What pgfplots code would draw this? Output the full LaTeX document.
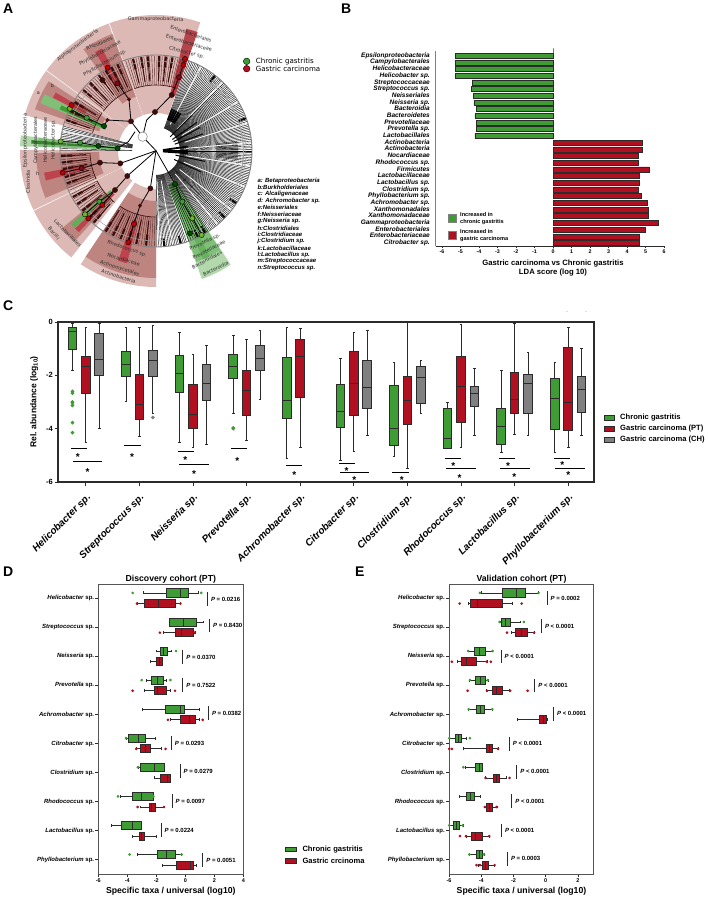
\documentclass[border=0pt]{standalone}
\usepackage{pgfplots}
\pgfplotsset{compat=1.18}
\usepgfplotslibrary{statistics}
\usepackage{fontspec}
\setmainfont{Liberation Sans}
\newfontfamily\dvfont{DejaVu Sans}
\definecolor{gr}{HTML}{3F9C35}
\definecolor{rd}{HTML}{B0101F}
\definecolor{gy}{HTML}{808080}
\definecolor{ln}{HTML}{2B2B2B}
\definecolor{pk}{HTML}{DDB9B5}
\definecolor{pkd}{HTML}{BE8580}
\definecolor{mar}{HTML}{3A0C0C}
\definecolor{lgr}{HTML}{B2D8AC}
\definecolor{mgr}{HTML}{7FBF78}
\newcommand{\fs}[1]{\fontsize{#1}{#1}\selectfont}
\def\bxlw{.8pt}\def\mksz{.9pt}
\newcommand{\bxp}[8]{\addplot[boxplot prepared={draw position=#1,lower whisker=#2,lower quartile=#3,median=#4,upper quartile=#5,upper whisker=#6},boxplot/every box/.style={fill=#7},draw=ln,line width=\bxlw,mark=*,mark size=\mksz,mark options={fill=#7,draw=#7,solid}] coordinates {#8};}
\newcommand{\sig}[3]{\addplot[black,line width=.8pt] coordinates {(#1,#3)(#2,#3)};}
\newcommand{\st}[2]{\node[font=\fs{10}\bfseries,yshift=-2pt,inner sep=0pt] at (axis cs:#1,#2) {*};}
\newcommand{\pv}[3]{\pgfmathsetmacro\pa{#2-.235}\pgfmathsetmacro\pb{#2+.235}\addplot[ln,line width=.8pt] coordinates {(#1,\pa)(#1,\pb)};\node[anchor=west,inner sep=0pt,xshift=3.5pt,font=\fs{6}\bfseries] at (axis cs:#1,#2) {#3};}
\newcommand{\wdg}[5]{\fill[#5] (#1:#3pt) arc[start angle=#1,end angle=#2,radius=#3pt] -- (#2:#4pt) arc[start angle=#2,end angle=#1,radius=#4pt] -- cycle;}
\newcommand{\lab}[4]{\node[font=\dvfont\fs{4.9},text=ln,rotate=#3,inner sep=0pt] at (axis cs:#1,#2) {#4};}
\newcommand{\spp}[1]{\textit{#1} sp.}
\pgfplotsset{
  de/.style={scale only axis,width=145pt,height=289.7pt,ymin=-.49,ymax=9.48,clip=false,
    boxplot/draw direction=x,boxplot/box extend=.276,boxplot/whisker extend=.1,
    axis line style={draw=ln!80,line width=1pt},tick style={draw=ln,line width=.6pt},tick align=outside,major tick length=3pt,
    xtick pos=bottom,ytick pos=left,ytick={0,...,9},
    yticklabels={\spp{Phyllobacterium},\spp{Lactobacillus},\spp{Rhodococcus},\spp{Clostridium},\spp{Citrobacter},\spp{Achromobacter},\spp{Prevotella},\spp{Neisseria},\spp{Streptococcus},\spp{Helicobacter}},
    yticklabel style={font=\fs{6}\bfseries,inner sep=1pt},
    xticklabel style={font=\fs{5.5}\bfseries,inner sep=1.5pt},
    /pgf/number format/assume math mode=true,
    title style={font=\fs{8.7}\bfseries,yshift=-8.5pt},
    xlabel style={font=\fs{8.7}\bfseries,inner sep=0pt,yshift=-2.5pt}}}
\begin{document}
\begin{tikzpicture}
\useasboundingbox (0,0) rectangle (708pt,-897pt);
% panel letters
\foreach \t/\x/\y in {A/3/13,B/341/13,C/3/310,D/3/576,E/355/576}{
  \node[anchor=base west,inner sep=0pt,font=\fs{14}\bfseries] at (\x pt,-\y pt) {\t};}
% ---------- panel A background sectors
\begin{scope}[shift={(156pt,-151pt)}]
\wdg{71}{110}{38}{136}{pk}
\wdg{110.4}{143.5}{38}{136}{pk}
\wdg{143.9}{164.7}{38}{136}{pk}
\wdg{179.5}{205.7}{38}{136}{pk}
\wdg{206.1}{231.5}{38}{136}{pk}
\wdg{236.4}{270}{38}{136}{pk}
\wdg{173.4}{178}{40}{136}{lgr}
\wdg{173.6}{177.8}{40}{118}{mgr}
\wdg{289.7}{303.3}{36}{136}{lgr}
\wdg{290}{303}{36}{118}{mgr}
\wdg{110.4}{125.5}{58}{125}{pkd}
\wdg{147}{161}{60}{128}{pkd}
\wdg{181}{203}{57}{120}{pkd}
\wdg{219.4}{228}{65}{122}{pkd}
\wdg{236.4}{270}{50}{127}{pkd}
\wdg{70.7}{76}{58}{126}{rd!55!pkd}
\wdg{153}{157.5}{55}{125}{mgr}
\wdg{154.2}{156.6}{55}{105}{gr}
\wdg{149.8}{152.6}{80}{116}{rd!70!pk}
\wdg{117.8}{121.6}{78}{116}{rd!70!pk}
\wdg{191}{195}{72}{114}{rd!70!pk}
\wdg{251}{255.5}{73}{116}{rd!70!pk}
\wdg{72.5}{75}{60}{100}{rd!80!pk}
\wdg{223.8}{226.4}{60}{112}{rd!70!pk}
\wdg{220.6}{223.4}{60}{112}{gr!70!lgr}
\wdg{293.5}{297}{36}{118}{gr!65!lgr}
\wdg{175}{176.6}{40}{125}{gr!85!black}
\wdg{-6}{7}{60}{82}{gy!70}
% fan: pink clades
\foreach \a in {71.8,73.4,...,109.5,111,112.6,...,143,145,146.6,...,164,182,183.6,...,205,207,208.6,...,231,237,238.6,...,269.5}{
  \draw[mar!80!pk,line width=.4pt] (\a:66pt) -- (\a:95pt);}
\foreach \a in {80,84,88,95,99,104,114,118,122,127,134,140,149,155,161,183,187,191,196,200,209,214,219,225,229,238,243,248,253,258,264}{
  \draw[mar,line width=2.2pt] (\a:84pt) -- (\a:95pt);
  \draw[mar,line width=1pt] (\a:70pt) -- (\a:84pt);}
\foreach \p/\q in {72/109,111/143,145/164,182/205,207/231,237/269.5}{
  \draw[mar,line width=.6pt] (\p:66pt) arc[start angle=\p,end angle=\q,radius=66pt];}
% fan: uncoloured clades on the right and in the gaps
\foreach \a in {-57,-56,...,70,270.5,271.5,...,289,290,291.5,...,303,165,166,...,173,178.5,179.5}{
  \draw[black,line width=.38pt] (\a:24pt) -- (\a:96pt);}
\foreach \a in {-50,-38,-22,-9,5,17,31,46,62,272,280,168}{
  \draw[white,line width=.8pt] (\a:30pt) -- (\a:96pt);}
\wdg{-57}{70.5}{87}{88}{gy!70}
\foreach \a in {-44,-33,20,52,275,285,296,301}{
  \draw[black,line width=2pt] (\a:88pt) -- (\a:96pt);}
\foreach \a in {57,60,63,66,69}{\draw[black,line width=1.8pt] (\a:33pt) -- (\a:45pt);}
\foreach \a in {-4,0,8}{\draw[black,line width=1.8pt] (\a:7pt) -- (\a:32pt);}
\foreach \a in {20,28,35,45,-12,-25}{\draw[black,line width=1pt] (\a:20pt) -- (\a:50pt);}
\draw[gy,line width=.9pt] (0,0) circle[radius=96pt];
\draw[gy!70,line width=.5pt] (0,0) circle[radius=90pt];
\end{scope}
% ---------- panel A nodes and labels
\begin{axis}[at={(0pt,-300pt)},anchor=south west,scale only axis,width=330pt,height=300pt,hide axis,xmin=0,xmax=990,ymin=0,ymax=900,y dir=reverse,clip=false]
\addplot[black,line width=.8pt] coordinates {(468,452)(428,410)(393,364)(387,298)(352,250)};
\addplot[black,line width=.8pt] coordinates {(428,410)(440,360)(465,336)(515,285)(537,232)(550,195)(555,177)};
\addplot[black,line width=.8pt] coordinates {(393,364)(322,360)(312,378)(260,353)(209,326)};
\addplot[black,line width=.8pt] coordinates {(405,395)(385,425)(353,445)(295,438)(240,428)(182,424)};
\addplot[black,line width=.8pt] coordinates {(468,452)(361,490)(300,488)(245,505)(188,518)};
\addplot[black,line width=.8pt] coordinates {(468,452)(382,528)(345,570)(298,605)(255,643)};
\addplot[black,line width=.8pt] coordinates {(345,570)(307,615)(265,655)};
\addplot[black,line width=.8pt] coordinates {(468,452)(451,565)(420,617)(402,672)(385,727)};
\addplot[black,line width=.8pt] coordinates {(468,452)(525,552)(547,605)(577,655)(605,705)};
\addplot[only marks,mark=*,mark size=4.7pt,mark options={fill=white,draw=gy,line width=.5pt}] coordinates {(428,410)};
\addplot[only marks,mark=*,mark size=2.6pt,color=mar,mark options={draw=mar,fill=mar}] coordinates {(465,336)(393,364)(361,490)(382,528)(451,565)(515,285)(345,570)(300,488)(307,240)};
\addplot[only marks,mark=*,mark size=1.7pt,color=mar,mark options={draw=mar,fill=mar}] coordinates {(387,298)(420,617)(322,360)};
\addplot[only marks,mark=*,mark size=2.6pt,mark options={draw=none,fill=green!30!black}] coordinates {(353,445)(295,438)(312,378)(525,552)(570,700)};
\addplot[only marks,mark=*,mark size=2.6pt,mark options={draw=none,fill=gr}] coordinates {(240,428)(260,353)(298,605)(547,605)};
\addplot[only marks,mark=*,mark size=2.6pt,mark options={draw=none,fill=gr!75!yellow}] coordinates {(182,424)(209,326)(255,643)(577,655)(605,705)};
\addplot[only marks,mark=*,mark size=2.6pt,mark options={draw=none,fill=rd!70!black}] coordinates {(352,250)(245,505)(537,232)};
\addplot[only marks,mark=*,mark size=2.6pt,mark options={draw=none,fill=red!75!black}] coordinates {(323,203)(550,195)(555,177)(215,315)(188,518)(307,615)(265,655)(402,672)(385,727)};
\addplot[only marks,mark=*,mark size=3.3pt,mark options={draw=none,fill=gr}] coordinates {(740,184)};
\addplot[only marks,mark=*,mark size=3.3pt,mark options={draw=none,fill=rd}] coordinates {(740,206)};
\node[anchor=west,inner sep=0pt,font=\dvfont\fs{7.1}] at (axis cs:767,184) {Chronic gastritis};
\node[anchor=west,inner sep=0pt,font=\dvfont\fs{7.1}] at (axis cs:767,206) {Gastric carcinoma};
\lab{467}{58}{-1}{Gammaproteobacteria}
\lab{573}{101}{-19}{Enterobacteriales}
\lab{567}{129}{-17}{Enterobacteriaceae}
\lab{560}{158}{-15}{Citrobacter sp.}
\lab{233}{136}{37}{Alphaproteobacteria}
\lab{298}{130}{22}{Rhizobiales}
\lab{300}{160}{29}{Phyllobacteriaceae}
\lab{315}{189}{30}{Phyllobacterium sp.}
\lab{76}{422}{90}{Epsilonproteobacteria}
\lab{107}{421}{90}{Campylobacterales}
\lab{135}{420}{90}{Helicobacteraceae}
\lab{160}{420}{90}{Helicobacter sp.}
\lab{84}{545}{90}{Clostridia}
\lab{115}{278}{0}{a}
\lab{157}{258}{0}{b}
\lab{113}{522}{0}{h}
\lab{203}{700}{-45}{Lactobacillales}
\lab{162}{700}{-50}{Bacilli}
\lab{381}{746}{-19}{Rhodococcus sp.}
\lab{371}{779}{-16}{Nocardiaceae}
\lab{359}{805}{-18}{Actinomycetales}
\lab{356}{830}{-18}{Actinobacteria}
\lab{615}{727}{26}{Prevotella sp.}
\lab{627}{749}{28}{Prevotellaceae}
\lab{621}{780}{28}{Bacteroidales}
\lab{647}{806}{26}{Bacteroidia}
\foreach \t [count=\i from 0] in {a: Betaproteobacteria,b:Burkholderiales,c: Alcaligenaceae,d: Achromobacter sp.,e:Neisseriales,f:Neisseriaceae,g:Neisseria sp.,h:Clostridiales,i:Clostridiaceae,j:Clostridium sp.,k:Lactobacillaceae,l:Lactobacillus sp.,m:Streptococcaceae,n:Streptococcus sp.}{
  \pgfmathsetmacro\yy{543+20.1*\i}
  \edef\temp{\noexpand\node[anchor=west,inner sep=0pt,font=\noexpand\fs{6}\noexpand\bfseries\noexpand\itshape] at (axis cs:772,\yy) {\t};}\temp}
\end{axis}
% ---------- panel B
\begin{axis}[at={(435.7pt,-246pt)},anchor=south west,scale only axis,width=228.3pt,height=195pt,
  xmin=-6.34,xmax=6,ymin=.55,ymax=29.7,clip=false,xbar,bar shift=0pt,bar width=5pt,
  axis x line*=bottom,axis y line*=left,
  x axis line style={-,draw=ln,line width=.7pt},y axis line style={-,draw=gy,line width=.8pt},
  xtick={-6,...,6},ytick={1,...,29},tick align=outside,major tick length=2pt,
  y tick style={draw=none},x tick style={draw=ln,line width=.5pt},
  /pgf/number format/assume math mode=true,
  xticklabel style={font=\fs{5.3}\bfseries,inner sep=1.5pt},
  yticklabel style={font=\fs{6.5}\bfseries\itshape,inner sep=0pt,xshift=-3.7pt,text height=4.6pt,text depth=1.4pt},
  yticklabels={Citrobacter sp.,Enterobacteriaceae,Enterobacteriales,Gammaproteobacteria,Xanthomonadaceae,Xanthomonadales,Achromobacter sp.,Phyllobacterium sp.,Clostridium sp.,Lactobacillus sp.,Lactobacillaceae,Firmicutes,Rhodococcus sp.,Nocardiaceae,Actinobacteria,Actinobacteria,Lactobacillales,Prevotella sp.,Prevotellaceae,Bacteroidetes,Bacteroidia,Neisseria sp.,Neisseriales,Streptococcus sp.,Streptococcaceae,Helicobacter sp.,Helicobacteraceae,Campylobacterales,Epsilonproteobacteria}]
\addplot[fill=gr,draw=ln,line width=.6pt] coordinates {(-5.29,29)(-5.29,28)(-5.29,27)(-5.29,26)(-4.37,25)(-4.39,24)(-4.3,23)(-4.28,22)(-4.15,21)(-4.22,20)(-4.15,19)(-4.15,18)(-4.22,17)};
\addplot[fill=rd,draw=ln,line width=.6pt] coordinates {(4.84,16)(4.8,15)(4.62,14)(4.62,13)(5.22,12)(4.69,11)(4.69,10)(4.6,9)(4.78,8)(5.07,7)(5.13,6)(5.13,5)(5.67,4)(4.98,3)(4.69,2)(4.66,1)};
\addplot[ln,line width=.7pt] coordinates {(0,.55)(0,29.7)};
\end{axis}
\fill[gr,draw=ln!60,line width=.4pt] (448.5pt,-214.2pt) rectangle (456pt,-221.7pt);
\fill[rd,draw=ln!60,line width=.4pt] (448.5pt,-231.2pt) rectangle (456pt,-238.7pt);
\node[anchor=north west,align=left,inner sep=0pt,font=\fs{5.6}\bfseries] at (460pt,-212.5pt) {\fs{5.6}Increased in\\[1.2pt]\fs{5.6}chronic gastritis};
\node[anchor=north west,align=left,inner sep=0pt,font=\fs{5.6}\bfseries] at (460pt,-229pt) {\fs{5.6}Increased in\\[1.2pt]\fs{5.6}gastric carcinoma};
\node[font=\fs{7.7}\bfseries,inner sep=0pt] at (553pt,-263.5pt) {Gastric carcinoma vs Chronic gastritis};
\node[font=\fs{7.7}\bfseries,inner sep=0pt] at (553pt,-272.5pt) {LDA score (log 10)};
% ---------- panel C
\def\bxlw{1pt}\def\mksz{1.3pt}
\begin{axis}[at={(58pt,-482pt)},anchor=south west,scale only axis,width=536pt,height=160pt,
  xmin=-.52,xmax=9.48,ymin=-6,ymax=0,clip=false,
  boxplot/draw direction=y,boxplot/box extend=.16,boxplot/whisker extend=.05,
  axis line style={draw=ln,line width=1.2pt},tick style={draw=ln,line width=.8pt},tick align=outside,major tick length=3.5pt,
  xtick pos=bottom,ytick pos=left,xtick={0,...,9},ytick={-6,-4,-2,0},
  /pgf/number format/assume math mode=true,
  xticklabels={Helicobacter sp.,Streptococcus sp.,Neisseria sp.,Prevotella sp.,Achromobacter sp.,Citrobacter sp.,Clostridium sp.,Rhodococcus sp.,Lactobacillus sp.,Phyllobacterium sp.},
  xticklabel style={rotate=45,anchor=north east,font=\fs{10}\bfseries\itshape,inner sep=0pt,xshift=-5pt,yshift=-5pt},
  yticklabel style={font=\fs{7.5}\bfseries,inner sep=1.5pt},
  ylabel={Rel. abundance (log$_{\mathbf{10}}$)},ylabel style={font=\fs{8.5}\bfseries,yshift=3pt}]
\bxp{-.25}{-1.83}{-1.03}{-.37}{-.19}{-.04}{gr}{(0,-2.6)(0,-2.67)(0,-3)(0,-3.13)(0,-3.03)(0,-3.77)(0,-4.15)}
\bxp{0}{-4.53}{-2.69}{-1.65}{-1.3}{-.19}{rd}{}
\bxp{.25}{-3.98}{-2}{-1.41}{-.42}{-.04}{gy}{}
\bxp{.75}{-2.97}{-2.05}{-1.6}{-1.1}{-.19}{gr}{}
\bxp{1}{-4.29}{-3.67}{-3.09}{-1.96}{-.21}{rd}{}
\bxp{1.25}{-3.44}{-2.06}{-1.45}{-1.08}{-.14}{gy}{(0,-3.58)}
\bxp{1.75}{-4.53}{-2.66}{-1.92}{-1.25}{-.41}{gr}{}
\bxp{2}{-4.69}{-3.99}{-3.48}{-2.36}{-1.22}{rd}{}
\bxp{2.25}{-4.58}{-2.96}{-2.31}{-1.6}{-.89}{gy}{}
\bxp{2.75}{-3.44}{-2.13}{-1.65}{-1.21}{-.51}{gr}{(0,-4)(0,-3.97)}
\bxp{3}{-4.45}{-3.52}{-2.58}{-1.8}{-.66}{rd}{}
\bxp{3.25}{-2.9}{-1.82}{-1.37}{-.87}{-.31}{gy}{}
\bxp{3.75}{-5.1}{-3.6}{-2.96}{-1.32}{-.19}{gr}{}
\bxp{4}{-4.7}{-2.83}{-1.3}{-.67}{-.26}{rd}{}
\bxp{4.75}{-5.19}{-3.95}{-3.34}{-2.33}{-1.37}{gr}{}
\bxp{5}{-4.84}{-3.52}{-2.29}{-1.1}{-.39}{rd}{}
\bxp{5.25}{-4.24}{-3.23}{-2.46}{-1.43}{-.32}{gy}{}
\bxp{5.75}{-5.06}{-4.63}{-3.99}{-2.37}{-1.5}{gr}{}
\bxp{6}{-5.49}{-3.83}{-2.94}{-2.03}{0}{rd}{}
\bxp{6.25}{-3.42}{-3.06}{-2.08}{-1.67}{-1.43}{gy}{}
\bxp{6.75}{-4.76}{-4.73}{-4.38}{-3.24}{-3}{gr}{}
\bxp{7}{-4.7}{-3.75}{-2.43}{-1.31}{-.09}{rd}{}
\bxp{7.25}{-4.24}{-3.18}{-2.67}{-2.43}{-1.76}{gy}{}
\bxp{7.75}{-4.91}{-4.58}{-3.93}{-3.24}{-1.8}{gr}{}
\bxp{8}{-4.23}{-3.43}{-2.89}{-1.88}{-.06}{rd}{}
\bxp{8.25}{-4.24}{-3.42}{-2.32}{-1.95}{-1.16}{gy}{}
\bxp{8.75}{-4.88}{-4.04}{-2.86}{-2.12}{-1.53}{gr}{}
\bxp{9}{-4.7}{-4.05}{-3.03}{-.95}{-.22}{rd}{}
\bxp{9.25}{-4.24}{-3.4}{-2.52}{-2.06}{-1.01}{gy}{}
\sig{-.27}{.025}{-4.74}\st{-.15}{-4.98}\sig{-.24}{.305}{-5.21}\st{.03}{-5.54}
\sig{.72}{1.02}{-4.61}\st{.863}{-4.98}
\sig{1.72}{2.02}{-4.86}\st{1.857}{-5.12}\sig{1.745}{2.29}{-5.34}\st{2.02}{-5.62}
\sig{2.71}{3.005}{-4.74}\st{2.826}{-5.15}
\sig{3.74}{4.03}{-5.36}\st{3.89}{-5.65}
\sig{4.72}{5.02}{-5.29}\st{4.863}{-5.5}\sig{4.75}{5.29}{-5.64}\st{5.01}{-5.86}
\sig{5.72}{6.02}{-5.65}\st{5.894}{-5.85}
\sig{6.695}{6.994}{-5.13}\st{6.857}{-5.33}\sig{6.726}{7.274}{-5.48}\st{6.97}{-5.76}
\sig{7.7}{8}{-5.13}\st{7.876}{-5.33}\sig{7.733}{8.28}{-5.48}\st{7.994}{-5.73}
\sig{8.733}{9.03}{-5.13}\st{8.89}{-5.28}\sig{8.757}{9.305}{-5.48}\st{9}{-5.68}
\end{axis}
\foreach \c/\y/\t in {gr/418/Chronic gastritis,rd/429/Gastric carcinoma (PT),gy/440/Gastric carcinoma (CH)}{
  \fill[\c,draw=ln,line width=.5pt] (604pt,-\y pt+2.5pt) rectangle (614pt,-\y pt-2.5pt);
  \node[anchor=west,inner sep=0pt,font=\fs{7.6}\bfseries] at (620pt,-\y pt) {\t};}
\node[inner sep=0pt,font=\fs{5}] at (567pt,-312pt) {.};
\node[inner sep=0pt,font=\fs{5}] at (586pt,-312pt) {.};
% ---------- panel D
\def\bxlw{.8pt}\def\mksz{.9pt}
\begin{axis}[de,at={(98.3pt,-874pt)},anchor=south west,xmin=-6,xmax=4,xtick={-6,-4,-2,0,2,4},title={Discovery cohort (PT)},xlabel={Specific taxa / universal (log10)}]
\bxp{9.184}{-2.9}{-1.31}{-.34}{.21}{.92}{gr}{(0,-3.63)(0,1.1)}
\bxp{8.816}{-3.29}{-2.8}{-1.86}{-.67}{-.34}{rd}{(0,-3.33)(0,-.34)}
\bxp{8.184}{-1.08}{-1.08}{-.14}{.74}{1.26}{gr}{}
\bxp{7.816}{-1.52}{-.69}{-.28}{.55}{.67}{rd}{(0,-1.75)(0,.64)}
\bxp{7.184}{-2}{-1.75}{-1.52}{-1.26}{-.94}{gr}{(0,-.64)}
\bxp{6.816}{-2.41}{-2.02}{-1.82}{-1.59}{-1.59}{rd}{}
\bxp{6.184}{-2.71}{-2.34}{-1.93}{-1.52}{-1.29}{gr}{(0,-3.01)(0,-1.03)}
\bxp{5.816}{-2.83}{-2.16}{-1.93}{-1.33}{-1.01}{rd}{(0,-3.63)(0,-.71)}
\bxp{5.184}{-2.97}{-1.4}{-.34}{-.05}{.94}{gr}{}
\bxp{4.816}{-1.06}{-.34}{.25}{.71}{.94}{rd}{(0,-1.2)(0,1.2)}
\bxp{4.184}{-4.05}{-3.91}{-3.24}{-2.74}{-2.05}{gr}{(0,-4.09)}
\bxp{3.816}{-3.36}{-3.1}{-2.74}{-2.39}{-1.68}{rd}{(0,-3.38)(0,-1.36)}
\bxp{3.184}{-3.22}{-3.08}{-2.11}{-1.47}{-1.47}{gr}{(0,-3.27)}
\bxp{2.816}{-2.14}{-1.72}{-1.26}{-1.03}{-1.03}{rd}{}
\bxp{2.184}{-4.48}{-3.66}{-3.01}{-2.23}{-2.23}{gr}{(0,-4.64)(0,-2.2)}
\bxp{1.816}{-3.1}{-2.51}{-2.32}{-2.07}{-1.49}{rd}{(0,-3.29)(0,-1.47)}
\bxp{1.184}{-5.08}{-4.41}{-3.66}{-3.06}{-3.06}{gr}{}
\bxp{.816}{-3.68}{-3.15}{-3.01}{-2.85}{-1.98}{rd}{}
\bxp{.184}{-3.31}{-1.93}{-1.33}{-.67}{-.25}{gr}{(0,-3.84)(0,-.25)}
\bxp{-.184}{-1.56}{-.64}{.32}{.57}{.76}{rd}{}
\pv{1.52}{8.97}{\textit{P} = 0.0216}
\pv{1.66}{8.06}{\textit{P} = 0.8430}
\pv{-.18}{6.98}{\textit{P} = 0.0370}
\pv{-.18}{6.01}{\textit{P} = 0.7522}
\pv{1.59}{5.05}{\textit{P} = 0.0382}
\pv{-.97}{4.02}{\textit{P} = 0.0293}
\pv{-.37}{3.05}{\textit{P} = 0.0279}
\pv{-.92}{2.02}{\textit{P} = 0.0097}
\pv{-1.68}{1.02}{\textit{P} = 0.0224}
\pv{1.2}{-.01}{\textit{P} = 0.0051}
\end{axis}
% ---------- panel E
\begin{axis}[de,at={(449pt,-874pt)},anchor=south west,xmin=-6,xmax=3,xtick={-6,-4,-2,0,2},title={Validation cohort (PT)},xlabel={Specific taxa / universal (log10)}]
\bxp{9.184}{-4.02}{-2.69}{-1.8}{-1.24}{-.46}{gr}{(0,-4.08)(0,-.44)}
\bxp{8.816}{-4.82}{-4.66}{-4.22}{-2.67}{-2.09}{rd}{(0,-5.34)(0,-1.49)}
\bxp{8.184}{-2.8}{-2.73}{-2.53}{-2.17}{-1.55}{gr}{(0,-2.86)(0,-1.35)}
\bxp{7.816}{-2.13}{-1.88}{-1.51}{-1.12}{-.72}{rd}{(0,-2.4)(0,-.72)}
\bxp{7.184}{-4.78}{-4.43}{-4.12}{-3.77}{-3.33}{gr}{(0,-4.82)(0,-3.29)}
\bxp{6.816}{-5.49}{-5.2}{-4.95}{-4.33}{-3.62}{rd}{(0,-5.82)(0,-3.66)(0,-3.4)}
\bxp{6.184}{-4.72}{-4.35}{-4.06}{-3.77}{-3.56}{gr}{(0,-4.7)(0,-3.6)}
\bxp{5.816}{-3.66}{-3.31}{-3.08}{-2.69}{-2.28}{rd}{(0,-4.84)(0,-3.64)(0,-2.2)(0,-1.12)}
\bxp{5.184}{-4.78}{-4.29}{-4.08}{-3.83}{-3.29}{gr}{(0,-4.78)(0,-3.31)}
\bxp{4.816}{-1.78}{-.37}{-.17}{.04}{.12}{rd}{}
\bxp{4.184}{-6}{-5.63}{-5.42}{-5.2}{-4.91}{gr}{(0,-5.98)(0,-4.7)}
\bxp{3.816}{-5.09}{-3.69}{-3.52}{-3.31}{-2.94}{rd}{(0,-5.98)(0,-5.82)(0,-2.96)}
\bxp{3.184}{-4.99}{-4.35}{-4.14}{-3.93}{-3.93}{gr}{(0,-5.11)}
\bxp{2.816}{-3.71}{-3.25}{-3.04}{-2.88}{-2.42}{rd}{(0,-3.73)(0,-2.24)}
\bxp{2.184}{-5.38}{-4.91}{-4.7}{-4.45}{-4.06}{gr}{}
\bxp{1.816}{-3.81}{-3.66}{-3.5}{-3.31}{-3}{rd}{(0,-3.77)(0,-3.04)}
\bxp{1.184}{-6}{-5.73}{-5.53}{-5.34}{-5.13}{gr}{(0,-5.98)(0,-5.15)}
\bxp{.816}{-4.95}{-4.64}{-4.39}{-3.95}{-3.5}{rd}{(0,-5.32)(0,-4.95)(0,-3.5)}
\bxp{.184}{-4.76}{-4.33}{-4.12}{-3.91}{-3.81}{gr}{(0,-4.74)(0,-3.83)}
\bxp{-.184}{-4.18}{-3.91}{-3.73}{-3.56}{-3.17}{rd}{(0,-4.29)(0,-4.08)(0,-3.17)}
\pv{.08}{9}{\textit{P} = 0.0002}
\pv{-.27}{8.04}{\textit{P} < 0.0001}
\pv{-2.77}{7}{\textit{P} < 0.0001}
\pv{-.68}{6}{\textit{P} < 0.0001}
\pv{.48}{5.02}{\textit{P} < 0.0001}
\pv{-2.26}{3.99}{\textit{P} < 0.0001}
\pv{-1.8}{3.03}{\textit{P} < 0.0001}
\pv{-2.11}{2.02}{\textit{P} < 0.0001}
\pv{-2.75}{1.01}{\textit{P} < 0.0001}
\pv{-2.38}{.03}{\textit{P} = 0.0003}
\end{axis}
\foreach \c/\y/\t in {gr/849.3/Chronic gastritis,rd/861/Gastric crcinoma}{
  \fill[\c,draw=ln,line width=.6pt] (285pt,-\y pt+2.3pt) rectangle (296.5pt,-\y pt-2.3pt);
  \node[anchor=west,inner sep=0pt,font=\fs{7.6}\bfseries] at (302.3pt,-\y pt) {\t};}
\end{tikzpicture}
\end{document}
